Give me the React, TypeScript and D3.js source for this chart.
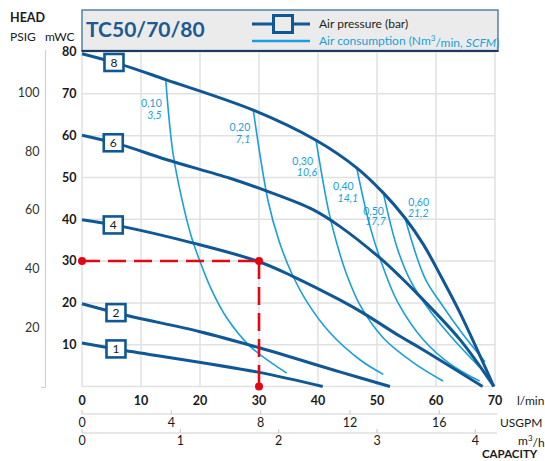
import React, { useEffect } from 'react';
import * as d3 from 'd3';

// pump curves: [flow l/min, head mWC]
const barLabels = ['8', '6', '4', '2', '1'];
const p8: [number, number][] = [[0, 79.6], [6.44, 77.1], [14.19, 73.4], [29.03, 66.1], [39.66, 58.9], [46.56, 52.3], [51.07, 46.3], [54.75, 40.3], [57.85, 34.0], [60.97, 26.0], [64.07, 17.6], [69.8, 0]];
const p6: [number, number][] = [[0, 60.1], [6.44, 57.9], [14.24, 54.3], [25.08, 49.8], [31.0, 46.9], [39.15, 42.3], [43.7, 38.3], [50.2, 31.1], [53.9, 26.3], [57.3, 21.5], [64.07, 11.2], [69.8, 0]];
const p4: [number, number][] = [[0, 39.9], [6.73, 38.3], [18.86, 34.3], [29.9, 29.9], [35.8, 26.3], [43.7, 20.7], [47.6, 17.6], [53.9, 12.0], [57.3, 9.2], [67.9, 0]];
const p2: [number, number][] = [[0, 19.8], [7.3, 17.1], [20, 13.1], [30.2, 9.2], [43.7, 3.5], [52.2, 0]];
const p1: [number, number][] = [[0, 10.4], [6.73, 8.75], [29.6, 3.5], [40.8, 0]];
const pressureCurves = [p8, p6, p4, p2, p1];
const labelFlow = [5.42, 5.3, 5.3, 5.76, 5.76];

// air consumption lines
const airNm3 = ['0,10', '0,20', '0,30', '0,40', '0,50', '0,60'];
const airScfm = ['3,5', '7,1', '10,6', '14,1', '17,7', '21,2'];
const a10: [number, number][] = [[14.19, 73.4], [15.4, 56], [16.9, 45], [18.5, 36], [20, 29.9], [22, 23], [24.5, 16.5], [28.5, 9.6], [34.7, 3.2]];
const a20: [number, number][] = [[29.03, 66.1], [31.6, 44], [33.4, 34.8], [35.5, 27.2], [38.1, 20.3], [42, 12.9], [47.1, 6.4], [51.07, 2.9]];
const a30: [number, number][] = [[39.66, 58.9], [41.75, 42.3], [43.17, 34.3], [44.86, 26.8], [47.1, 19.5], [51.07, 11.6], [56.15, 5.7], [61.19, 1.3]];
const a40: [number, number][] = [[46.56, 52.3], [48.81, 38.3], [51.07, 28.4], [53.5, 20.2], [57.85, 11.2], [62.5, 5.3], [67.4, 1.3]];
const a50: [number, number][] = [[51.07, 46.3], [53.34, 33.5], [55.6, 25.5], [58.5, 19], [62.5, 12], [67.4, 4.6]];
const a60: [number, number][] = [[54.75, 40.3], [58.1, 26], [60.97, 19.6], [64.5, 12.6], [68.3, 5.9]];
const airCurves = [a10, a20, a30, a40, a50, a60];

// duty point example
const dutyFlow = 30;
const dutyHead = 30;

// axis ticks
const lpmTicks = [0, 10, 20, 30, 40, 50, 60, 70];
const usgpmTicks = [0, 4, 8, 12, 16];
const m3hTicks = [0, 1, 2, 3, 4];
const mwcTicks = [10, 20, 30, 40, 50, 60, 70, 80];
const psigTicks = [20, 40, 60, 80, 100];

const DARK = '#0f5895';
const LIGHT = '#1a9fdc';
const FONT = 'Lato, "Open Sans", sans-serif';

// label offsets (px) from the start of each air line: [dx1, dy1, dx2, dy2]
const airLabelOffsets = [[-4, 24, -4, 36], [-3, 17, -3, 29], [-3, 21, 1, 32], [-3, 19, 1.5, 30.5], [0.5, 18, 2.5, 28], [24, -15.5, 23.5, -5]];

export default function App() {
  useEffect(() => {
    document.body.style.margin = '0';
  }, []);

  const x = d3.scaleLinear().domain([0, 70]).range([82, 495]);
  const y = d3.scaleLinear().domain([0, 80]).range([386.5, 52]);
  const xU = d3.scaleLinear().domain([0, 70 / 3.78541]).range([82, 495]);
  const xM = d3.scaleLinear().domain([0, 70 * 0.06]).range([82, 495]);
  const yP = d3.scaleLinear().domain([0, 80 / 0.70307]).range([386.5, 52]);

  const line = d3.line<[number, number]>()
    .x(d => x(d[0]))
    .y(d => y(d[1]))
    .curve(d3.curveCatmullRom.alpha(0.5));

  const headAt = (pts: [number, number][], f: number) => {
    const i = pts.findIndex(p => p[0] >= f);
    if (i <= 0) return pts[0][1];
    const a = pts[i - 1], b = pts[i];
    return a[1] + (b[1] - a[1]) * (f - a[0]) / (b[0] - a[0]);
  };

  return (
    <svg width={545} height={461} style={{ position: 'absolute', left: 0, top: 0, fontFamily: FONT }}>
      <rect width={545} height={461} fill="#fff" />

      {/* grid */}
      {lpmTicks.map(t => (
        <line key={'gx' + t} x1={x(t)} x2={x(t)} y1={y(80)} y2={y(0)} stroke="#e1e1e1" strokeWidth={1.5} />
      ))}
      {[0, ...mwcTicks].map(t => (
        <line key={'gy' + t} x1={x(0)} x2={x(70)} y1={y(t)} y2={y(t)} stroke="#e1e1e1" strokeWidth={1.5} />
      ))}

      {/* header texts */}
      <text x={10} y={18} fontSize={12.5} fontWeight="bold" fill="#1a1a1a" dy="0.35em">HEAD</text>
      <text x={10} y={36.5} fontSize={12} fill="#1a1a1a" dy="0.35em">PSIG</text>
      <text x={45} y={36.5} fontSize={12} fill="#1a1a1a" dy="0.35em">mWC</text>

      {/* PSIG axis */}
      <line x1={45.5} x2={45.5} y1={50} y2={387.5} stroke="#cfcfcf" strokeWidth={1.2} />
      <line x1={41} x2={45.5} y1={387.5} y2={387.5} stroke="#cfcfcf" strokeWidth={1.2} />
      {psigTicks.map(t => (
        <text key={'ps' + t} x={39.5} y={yP(t)} textAnchor="end" dy="0.35em" fontSize={12.5} fill="#333">{t}</text>
      ))}

      {/* mWC labels */}
      {mwcTicks.map(t => (
        <text key={'mw' + t} x={76.5} y={y(t)} textAnchor="end" dy="0.35em" fontSize={12.5} fontWeight="bold" fill="#1a1a1a">{t}</text>
      ))}

      {/* l/min axis */}
      {lpmTicks.map(t => (
        <text key={'lp' + t} x={x(t)} y={401} textAnchor="middle" dy="0.35em" fontSize={12.5} fontWeight="bold" fill="#1a1a1a">{t}</text>
      ))}
      <text x={517} y={401} dy="0.35em" fontSize={12} fill="#1a1a1a">l/min</text>

      {/* USGPM axis */}
      <line x1={x(0)} x2={497} y1={414} y2={414} stroke="#cfcfcf" strokeWidth={1.2} />
      {usgpmTicks.map(t => (
        <g key={'us' + t}>
          <line x1={xU(t)} x2={xU(t)} y1={410} y2={414} stroke="#cfcfcf" strokeWidth={1.2} />
          <text x={xU(t)} y={423} textAnchor="middle" dy="0.35em" fontSize={12.5} fill="#1a1a1a">{t}</text>
        </g>
      ))}
      <text x={500} y={423} dy="0.35em" fontSize={12} fill="#1a1a1a">USGPM</text>

      {/* m3/h axis */}
      <line x1={x(0)} x2={497} y1={433} y2={433} stroke="#cfcfcf" strokeWidth={1.2} />
      {m3hTicks.map(t => (
        <g key={'m3' + t}>
          <line x1={xM(t)} x2={xM(t)} y1={429} y2={433} stroke="#cfcfcf" strokeWidth={1.2} />
          <text x={xM(t)} y={441} textAnchor="middle" dy="0.35em" fontSize={12.5} fill="#1a1a1a">{t}</text>
        </g>
      ))}
      <text x={518} y={440.5} dy="0.35em" fontSize={12} fill="#1a1a1a">m<tspan fontSize={8} dy="-0.45em">3</tspan><tspan dy="0.45em">/h</tspan></text>
      <text x={482} y={454} dy="0.35em" fontSize={11.5} fontWeight="bold" fill="#1a1a1a">CAPACITY</text>

      {/* air consumption lines */}
      {airCurves.map((c, i) => (
        <path key={'ac' + i} d={line(c) || ''} fill="none" stroke={LIGHT} strokeWidth={1.6} />
      ))}
      {airCurves.map((c, i) => {
        const sx = x(c[0][0]), sy = y(c[0][1]);
        const o = airLabelOffsets[i];
        return (
          <g key={'al' + i} fontSize={10.5} fill={LIGHT} textAnchor="end">
            <text x={sx + o[0]} y={sy + o[1]} dy="0.35em">{airNm3[i]}</text>
            <text x={sx + o[2]} y={sy + o[3]} dy="0.35em" fontStyle="italic">{airScfm[i]}</text>
          </g>
        );
      })}

      {/* pressure curves */}
      {pressureCurves.map((c, i) => (
        <path key={'pc' + i} d={line(c) || ''} fill="none" stroke={DARK} strokeWidth={3} />
      ))}
      {pressureCurves.map((c, i) => {
        const cx = x(labelFlow[i]);
        const cy = y(headAt(c, labelFlow[i]));
        return (
          <g key={'pl' + i}>
            <rect x={cx - 9.5} y={cy - 8.5} width={19} height={17} fill="#fff" stroke={DARK} strokeWidth={2.6} />
            <text x={cx} y={cy} textAnchor="middle" dy="0.36em" fontSize={12} fill="#1a1a1a">{barLabels[i]}</text>
          </g>
        );
      })}

      {/* duty point */}
      <g stroke="#e30613" strokeWidth={2.6} fill="none" strokeDasharray="18,8">
        <line x1={x(0)} x2={x(dutyFlow)} y1={y(dutyHead)} y2={y(dutyHead)} />
        <line x1={x(dutyFlow)} x2={x(dutyFlow)} y1={y(dutyHead)} y2={y(0)} />
      </g>
      <circle cx={x(0)} cy={y(dutyHead)} r={4} fill="#e30613" />
      <circle cx={x(dutyFlow)} cy={y(dutyHead)} r={4} fill="#e30613" />
      <circle cx={x(dutyFlow)} cy={y(0)} r={4} fill="#e30613" />

      {/* title / legend box */}
      <rect x={82} y={10} width={416} height={40.5} fill="#ebebeb" stroke="#4a78a8" strokeWidth={1.4} />
      <line x1={81.5} x2={498.5} y1={51} y2={51} stroke="#1d3b5c" strokeWidth={2} />
      <text x={86} y={30} dy="0.35em" fontSize={21} fontWeight="bold" fill="#1b5a93">TC50/70/80</text>
      <line x1={252} x2={310} y1={24} y2={24} stroke={DARK} strokeWidth={3} />
      <rect x={273.5} y={15.5} width={19} height={17} fill="#ebebeb" stroke={DARK} strokeWidth={3} />
      <line x1={252} x2={310} y1={41} y2={41} stroke={LIGHT} strokeWidth={2.5} />
      <text x={319} y={24} dy="0.35em" fontSize={12} fill="#231f20">Air pressure (bar)</text>
      <text x={319} y={40.5} dy="0.35em" fontSize={12} fill={LIGHT}>
        Air consumption (Nm<tspan fontSize={8} dy="-0.5em">3</tspan><tspan dy="0.5em">/min, </tspan><tspan fontStyle="italic">SCFM</tspan>)
      </text>
    </svg>
  );
}
